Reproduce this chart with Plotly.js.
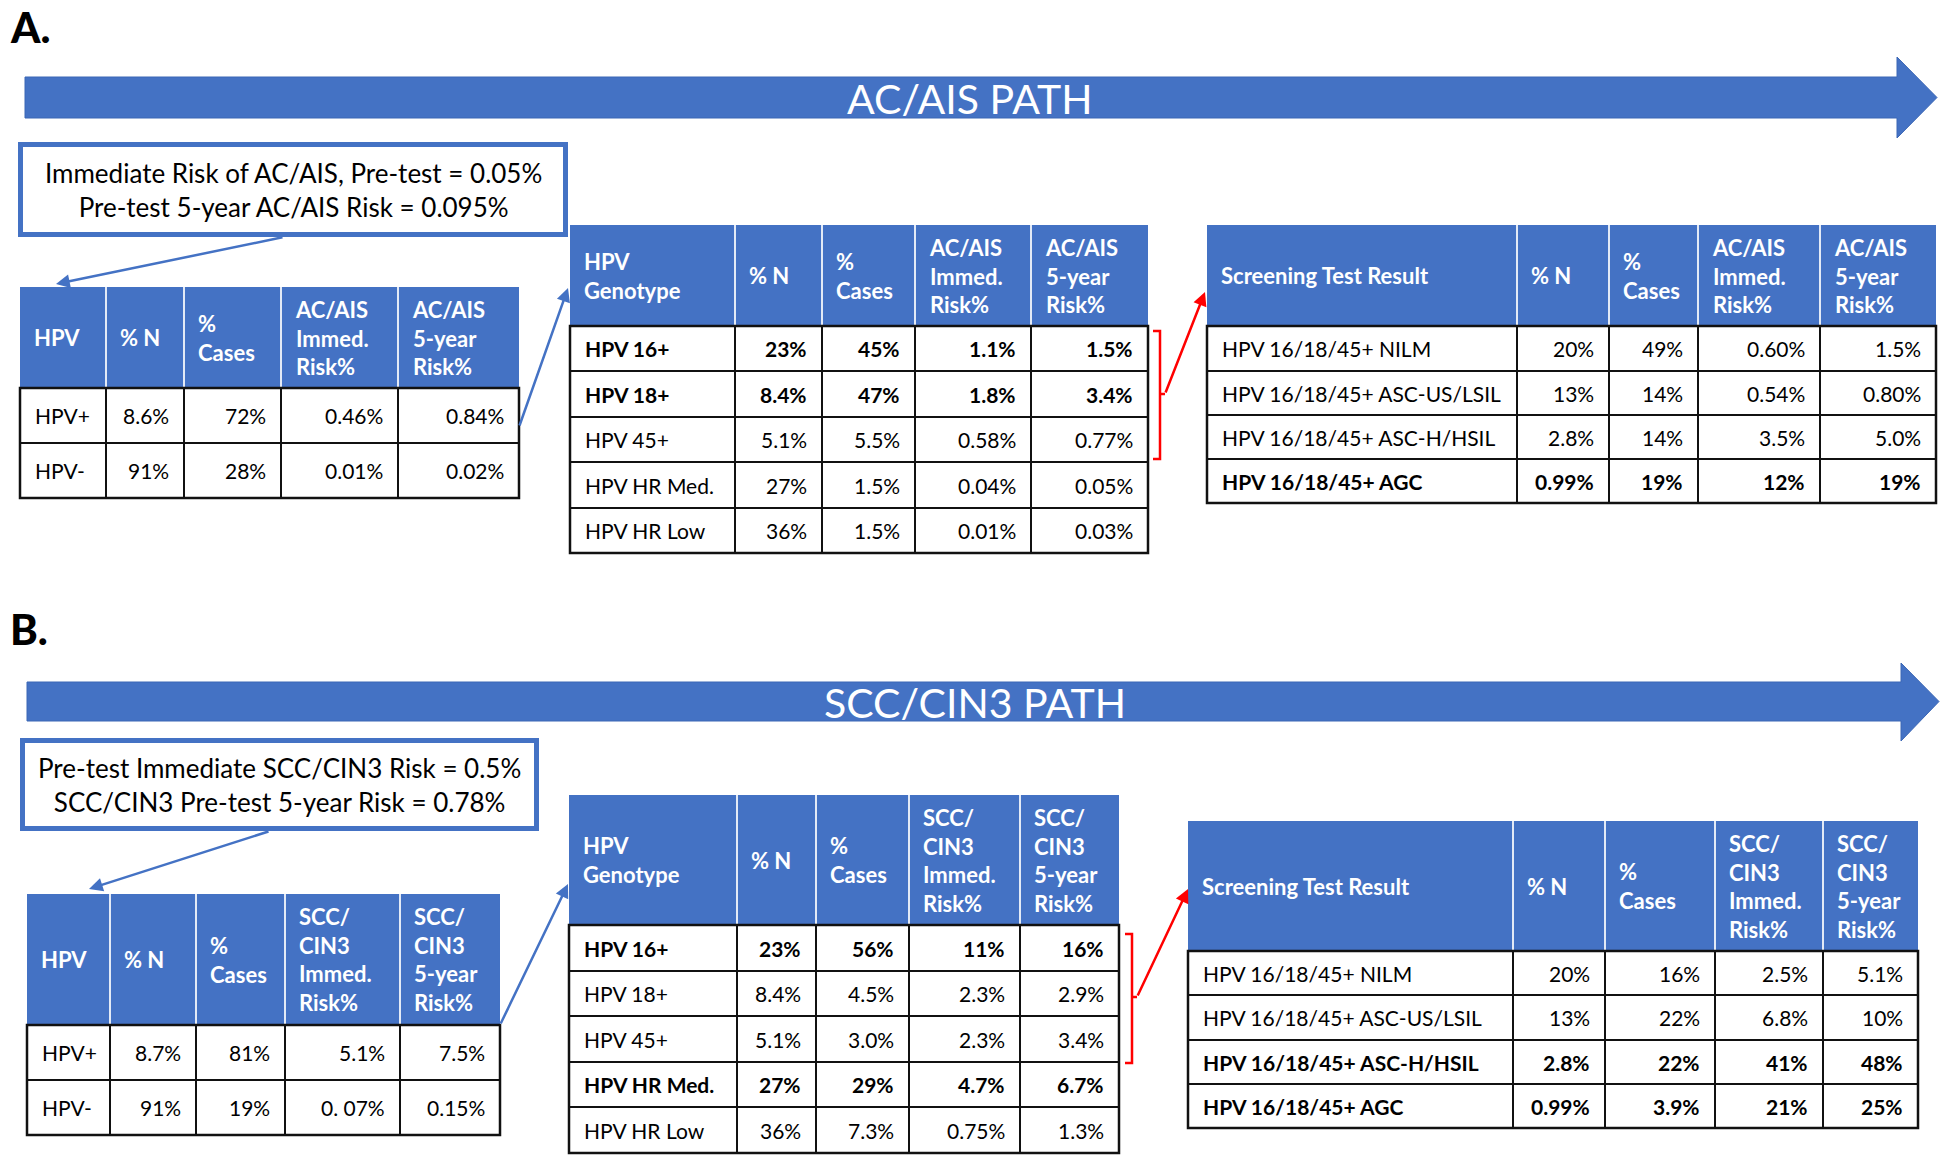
<!DOCTYPE html>
<html><head><meta charset="utf-8">
<script src="https://cdn.plot.ly/plotly-3.0.1.min.js"></script>
<style>html,body{margin:0;padding:0;background:#fff;overflow:hidden}#chart{width:1950px;height:1166px}</style>
</head><body><div id="chart"></div>
<script>
// ================= DATA =================
const panelLabels = ['A.', 'B.'];
const pathTitles = ['AC/AIS PATH', 'SCC/CIN3 PATH'];
const pretestA = ['Immediate Risk of AC/AIS, Pre-test = 0.05%', 'Pre-test 5-year AC/AIS Risk = 0.095%'];
const pretestB = ['Pre-test Immediate SCC/CIN3 Risk = 0.5%', 'SCC/CIN3 Pre-test 5-year Risk = 0.78%'];

// Panel A headers
const hdrA1 = ['HPV', '% N', '%<br>Cases', 'AC/AIS<br>Immed.<br>Risk%', 'AC/AIS<br>5-year<br>Risk%'];
const hdrA2 = ['HPV<br>Genotype', '% N', '%<br>Cases', 'AC/AIS<br>Immed.<br>Risk%', 'AC/AIS<br>5-year<br>Risk%'];
const hdrA3 = ['Screening Test Result', '% N', '%<br>Cases', 'AC/AIS<br>Immed.<br>Risk%', 'AC/AIS<br>5-year<br>Risk%'];
// Panel B headers
const hdrB1 = ['HPV', '% N', '%<br>Cases', 'SCC/<br>CIN3<br>Immed.<br>Risk%', 'SCC/<br>CIN3<br>5-year<br>Risk%'];
const hdrB2 = ['HPV<br>Genotype', '% N', '%<br>Cases', 'SCC/<br>CIN3<br>Immed.<br>Risk%', 'SCC/<br>CIN3<br>5-year<br>Risk%'];
const hdrB3 = ['Screening Test Result', '% N', '%<br>Cases', 'SCC/<br>CIN3<br>Immed.<br>Risk%', 'SCC/<br>CIN3<br>5-year<br>Risk%'];

// Table A1 : HPV status
const a1Labels = ['HPV+', 'HPV-'];
const a1PctN = ['8.6%', '91%'];
const a1Cases = ['72%', '28%'];
const a1Immed = ['0.46%', '0.01%'];
const a1Five = ['0.84%', '0.02%'];

// Table A2 : genotype
const a2Labels = ['HPV 16+', 'HPV 18+', 'HPV 45+', 'HPV HR Med.', 'HPV HR Low'];
const a2PctN = ['23%', '8.4%', '5.1%', '27%', '36%'];
const a2Cases = ['45%', '47%', '5.5%', '1.5%', '1.5%'];
const a2Immed = ['1.1%', '1.8%', '0.58%', '0.04%', '0.01%'];
const a2Five = ['1.5%', '3.4%', '0.77%', '0.05%', '0.03%'];

// Table A3 : screening result
const a3Labels = ['HPV 16/18/45+ NILM', 'HPV 16/18/45+ ASC-US/LSIL', 'HPV 16/18/45+ ASC-H/HSIL', 'HPV 16/18/45+ AGC'];
const a3PctN = ['20%', '13%', '2.8%', '0.99%'];
const a3Cases = ['49%', '14%', '14%', '19%'];
const a3Immed = ['0.60%', '0.54%', '3.5%', '12%'];
const a3Five = ['1.5%', '0.80%', '5.0%', '19%'];

// Table B1
const b1Labels = ['HPV+', 'HPV-'];
const b1PctN = ['8.7%', '91%'];
const b1Cases = ['81%', '19%'];
const b1Immed = ['5.1%', '0. 07%'];
const b1Five = ['7.5%', '0.15%'];

// Table B2
const b2Labels = ['HPV 16+', 'HPV 18+', 'HPV 45+', 'HPV HR Med.', 'HPV HR Low'];
const b2PctN = ['23%', '8.4%', '5.1%', '27%', '36%'];
const b2Cases = ['56%', '4.5%', '3.0%', '29%', '7.3%'];
const b2Immed = ['11%', '2.3%', '2.3%', '4.7%', '0.75%'];
const b2Five = ['16%', '2.9%', '3.4%', '6.7%', '1.3%'];

// Table B3
const b3Labels = ['HPV 16/18/45+ NILM', 'HPV 16/18/45+ ASC-US/LSIL', 'HPV 16/18/45+ ASC-H/HSIL', 'HPV 16/18/45+ AGC'];
const b3PctN = ['20%', '13%', '2.8%', '0.99%'];
const b3Cases = ['16%', '22%', '22%', '3.9%'];
const b3Immed = ['2.5%', '6.8%', '41%', '21%'];
const b3Five = ['5.1%', '10%', '48%', '25%'];

// ================= STYLE / LAYOUT =================
const BLUE = '#4472C4';
const RED = '#FF0000';
const FONT = 'Lato, "Open Sans", sans-serif';
const BODY_SIZE = 21;
const boldRows = {
  a1: [false, false], a2: [true, true, false, false, false], a3: [false, false, false, true],
  b1: [false, false], b2: [true, false, false, true, false], b3: [false, false, true, true]
};
const geo = {
  a1: {cols: [20, 106, 184, 281, 398, 519], hy: [287, 388], rows: [388, 443, 498]},
  a2: {cols: [570, 735, 822, 915, 1031, 1148], hy: [225, 326], rows: [326, 371, 417, 462, 508, 553]},
  a3: {cols: [1207, 1517, 1609, 1698, 1820, 1936], hy: [225, 326], rows: [326, 371, 415, 459, 503]},
  b1: {cols: [27, 110, 196, 285, 400, 500], hy: [894, 1025], rows: [1025, 1080, 1135]},
  b2: {cols: [569, 737, 816, 909, 1020, 1119], hy: [795, 925], rows: [925, 971, 1016, 1062, 1107, 1153]},
  b3: {cols: [1188, 1513, 1605, 1715, 1823, 1918], hy: [821, 951], rows: [951, 995, 1040, 1084, 1128]}
};

const shapes = [];
const annotations = [];

function txt(x, y, text, opts) {
  annotations.push(Object.assign({
    x: x, y: y, xref: 'x', yref: 'y', text: text, showarrow: false,
    xanchor: 'left', yanchor: 'middle', borderpad: 0, align: 'left',
    font: {family: FONT, size: BODY_SIZE, color: '#000'}
  }, opts || {}));
}
function line(x0, y0, x1, y1, color, width) {
  shapes.push({type: 'line', xref: 'x', yref: 'y', x0: x0, y0: y0, x1: x1, y1: y1,
    line: {color: color, width: width}});
}

function drawTable(g, header, labels, valueCols, bold) {
  const c = g.cols, r = g.rows, nC = c.length - 1;
  // header block
  shapes.push({type: 'rect', xref: 'x', yref: 'y', x0: c[0], x1: c[nC], y0: g.hy[0], y1: g.hy[1],
    fillcolor: BLUE, line: {width: 0}});
  for (let i = 1; i < nC; i++) line(c[i], g.hy[0], c[i], g.hy[1], 'rgba(255,255,255,0.85)', 2);
  const hc = (g.hy[0] + g.hy[1]) / 2;
  header.forEach((h, i) => txt(c[i] + 13, hc, '<b>' + h + '</b>',
    {align: 'left', font: {family: FONT, size: 22, color: '#ffffff'}}));
  // body grid
  for (let j = 1; j < r.length - 1; j++) line(c[0], r[j], c[nC], r[j], '#111', 2);
  for (let i = 1; i < nC; i++) line(c[i], r[0], c[i], r[r.length - 1], '#111', 2);
  shapes.push({type: 'rect', xref: 'x', yref: 'y', x0: c[0], x1: c[nC], y0: r[0], y1: r[r.length - 1],
    fillcolor: 'rgba(0,0,0,0)', line: {color: '#111', width: 2.5}});
  // body text
  labels.forEach((lab, j) => {
    const yc = (r[j] + r[j + 1]) / 2;
    const b = bold[j];
    const w = s => b ? '<b>' + s + '</b>' : s;
    txt(c[0] + 14, yc, w(lab));
    valueCols.forEach((col, i) => txt(c[i + 2] - 14, yc, w(col[j]), {xanchor: 'right', align: 'right'}));
  });
}

function bigArrow(x0, x1, yTop, yBot, headTop, headBot, tipX, title, titleX) {
  const ym = (yTop + yBot) / 2;
  shapes.push({type: 'path', xref: 'x', yref: 'y',
    path: `M ${x0} ${yTop} L ${x1} ${yTop} L ${x1} ${headTop} L ${tipX} ${ym} L ${x1} ${headBot} L ${x1} ${yBot} L ${x0} ${yBot} Z`,
    fillcolor: BLUE, line: {color: '#3a66b5', width: 1}});
  txt(titleX, ym + 1, title, {xanchor: 'center', align: 'center', font: {family: FONT, size: 41, color: '#ffffff'}});
}

function box(x0, x1, y0, y1, lines) {
  shapes.push({type: 'rect', xref: 'x', yref: 'y', x0: x0 + 2.5, x1: x1 - 2.5, y0: y0 + 2.5, y1: y1 - 2.5,
    fillcolor: '#ffffff', line: {color: BLUE, width: 5}});
  txt((x0 + x1) / 2, (y0 + y1) / 2, lines.join('<br>'),
    {xanchor: 'center', align: 'center', font: {family: FONT, size: 26, color: '#000'}});
}

function connector(fromX, fromY, toX, toY, color) {
  annotations.push({x: toX, y: toY, xref: 'x', yref: 'y', ax: fromX, ay: fromY, axref: 'x', ayref: 'y',
    text: '', showarrow: true, arrowhead: 2, arrowsize: 1.1, arrowwidth: 2.5, arrowcolor: color,
    standoff: 0, startstandoff: 0});
}

function bracket(x0, x1, yTop, yBot, yMid) {
  shapes.push({type: 'path', xref: 'x', yref: 'y',
    path: `M ${x0} ${yTop} L ${x1} ${yTop} L ${x1} ${yBot} L ${x0} ${yBot} M ${x1} ${yMid} L ${x1 + 5} ${yMid}`,
    line: {color: RED, width: 2.5}});
}

const labelFont = {family: FONT, size: 42, color: '#000', weight: 900};

// ---- Panel A ----
txt(9, 27, panelLabels[0], {font: labelFont});
bigArrow(25, 1897, 77, 118, 57, 138, 1937, pathTitles[0], 970);
box(18, 568, 142, 237, pretestA);
connector(284, 237, 56, 284, BLUE);
drawTable(geo.a1, hdrA1, a1Labels, [a1PctN, a1Cases, a1Immed, a1Five], boldRows.a1);
connector(519, 427, 568, 288, BLUE);
drawTable(geo.a2, hdrA2, a2Labels, [a2PctN, a2Cases, a2Immed, a2Five], boldRows.a2);
bracket(1153, 1160, 331, 459, 394);
connector(1165, 394, 1205, 292, RED);
drawTable(geo.a3, hdrA3, a3Labels, [a3PctN, a3Cases, a3Immed, a3Five], boldRows.a3);

// ---- Panel B ----
txt(9, 629, panelLabels[1], {font: labelFont});
bigArrow(27, 1901, 682, 721, 663, 741, 1939, pathTitles[1], 975);
box(20, 539, 738, 831, pretestB);
connector(270, 831, 89, 889, BLUE);
drawTable(geo.b1, hdrB1, b1Labels, [b1PctN, b1Cases, b1Immed, b1Five], boldRows.b1);
connector(500, 1025, 568, 884, BLUE);
drawTable(geo.b2, hdrB2, b2Labels, [b2PctN, b2Cases, b2Immed, b2Five], boldRows.b2);
bracket(1125, 1132, 934, 1063, 997);
connector(1137, 997, 1188, 889, RED);
drawTable(geo.b3, hdrB3, b3Labels, [b3PctN, b3Cases, b3Immed, b3Five], boldRows.b3);

const layout = {
  width: 1950, height: 1166,
  margin: {l: 0, r: 0, t: 0, b: 0, pad: 0},
  paper_bgcolor: '#ffffff', plot_bgcolor: '#ffffff',
  showlegend: false,
  font: {family: FONT},
  xaxis: {range: [0, 1950], visible: false, fixedrange: true},
  yaxis: {range: [1166, 0], visible: false, fixedrange: true},
  shapes: shapes,
  annotations: annotations
};
const data = [{x: [0, 1950], y: [0, 1166], type: 'scatter', mode: 'markers',
  marker: {opacity: 0}, hoverinfo: 'skip', showlegend: false}];
Plotly.newPlot('chart', data, layout, {staticPlot: true, displayModeBar: false});
</script></body></html>
